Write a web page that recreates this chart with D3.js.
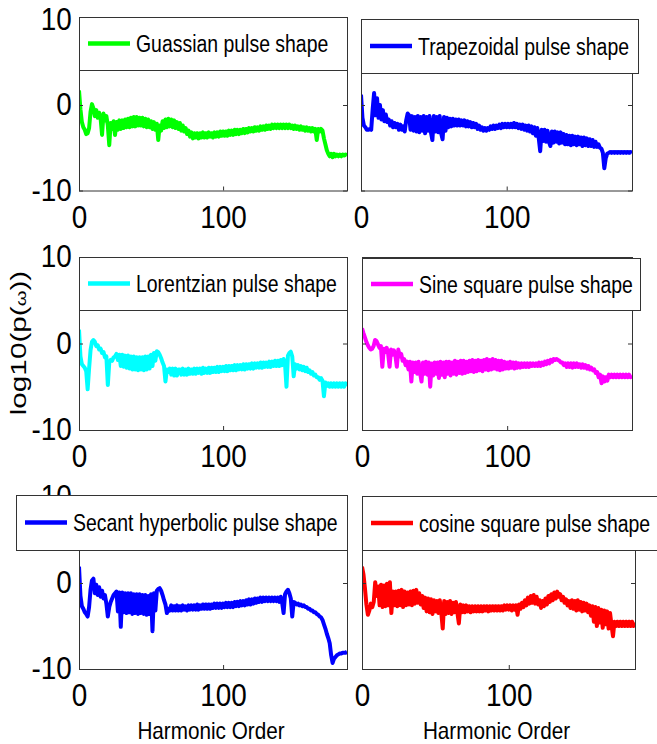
<!DOCTYPE html>
<html>
<head>
<meta charset="utf-8">
<script src="https://cdn.jsdelivr.net/npm/d3@7"></script>
<style>
body { margin: 0; background: #fff; }
text { font-family: "Liberation Sans", Arial, Helvetica, sans-serif; fill: #000; }
</style>
</head>
<body>
<div id="chart"></div>
<script>
// log10(p(w)), one value per harmonic order 0..186
var gaussian = [
    1.7, -0.5, -2.0, -2.6, -2.9, -3.4, -3.3, -2.7, -0.8, 0.1,
    -0.4, -1.3, -0.6, -1.5, -0.9, -1.6, -3.5, -1.0, -1.8, -1.3,
    -2.4, -4.7, -2.1, -2.8, -1.9, -3.5, -2.0, -2.9, -1.8, -2.8,
    -1.8, -2.7, -1.7, -2.6, -1.6, -2.6, -1.5, -2.5, -1.4, -2.5,
    -1.4, -2.4, -1.5, -2.4, -1.5, -2.5, -1.6, -2.6, -1.7, -2.6,
    -1.9, -2.8, -2.0, -2.9, -2.2, -4.1, -2.4, -3.0, -1.9, -2.7,
    -1.7, -2.6, -1.6, -2.5, -1.7, -2.6, -1.8, -2.7, -2.0, -2.8,
    -2.1, -3.0, -2.4, -3.1, -2.7, -3.4, -3.0, -3.7, -3.2, -3.9,
    -3.3, -3.8, -3.3, -3.9, -3.3, -3.8, -3.2, -3.8, -3.3, -3.8,
    -3.2, -3.7, -3.3, -3.8, -3.2, -3.7, -3.2, -3.7, -3.1, -3.6,
    -3.1, -3.6, -3.1, -3.6, -3.0, -3.5, -3.0, -3.5, -2.9, -3.4,
    -2.9, -3.4, -2.9, -3.3, -2.8, -3.3, -2.8, -3.2, -2.7, -3.1,
    -2.7, -3.1, -2.6, -3.0, -2.6, -3.0, -2.5, -2.9, -2.5, -2.9,
    -2.4, -2.8, -2.4, -2.8, -2.3, -2.7, -2.3, -2.7, -2.3, -2.7,
    -2.3, -2.7, -2.3, -2.7, -2.3, -2.7, -2.3, -2.7, -2.4, -2.8,
    -2.4, -2.8, -2.5, -2.9, -2.5, -2.9, -2.6, -3.0, -2.6, -3.0,
    -2.7, -3.1, -2.7, -3.1, -2.8, -4.1, -2.8, -3.1, -2.8, -3.0,
    -3.9, -4.6, -5.3, -5.7, -6.0, -5.7, -6.1, -5.7, -6.0, -5.8,
    -6.0, -5.8, -6.0, -5.8, -5.9, -5.8, -5.9
];
var trapezoidal = [
    1.2, -1.5, -2.4, -2.6, -2.9, -2.9, -2.8, -2.9, -0.5, 1.4,
    -1.2, 0.8, -1.5, 0.0, -1.7, -0.6, -1.9, -1.1, -2.0, -1.7,
    -2.4, -1.9, -2.6, -2.1, -2.6, -2.2, -2.9, -2.3, -2.9, -2.5,
    -3.1, -1.8, -1.0, -1.2, -2.9, -1.3, -3.0, -1.4, -3.1, -1.3,
    -3.2, -1.4, -3.0, -1.3, -3.3, -1.4, -3.0, -1.3, -3.2, -4.1,
    -1.3, -3.1, -1.4, -3.2, -1.3, -3.3, -4.0, -1.4, -3.0, -1.5,
    -2.6, -1.6, -2.5, -1.6, -2.4, -1.7, -2.4, -1.7, -2.4, -1.8,
    -2.4, -1.8, -2.5, -1.9, -2.5, -2.0, -2.6, -2.1, -2.6, -2.2,
    -2.8, -2.4, -2.9, -2.6, -3.0, -2.7, -3.0, -2.7, -2.9, -2.5,
    -2.8, -2.4, -2.8, -2.4, -2.7, -2.3, -2.7, -2.2, -2.6, -2.2,
    -2.6, -2.2, -2.6, -2.2, -2.6, -2.1, -2.6, -2.2, -2.7, -2.3,
    -2.8, -2.3, -2.9, -2.4, -3.0, -2.4, -3.1, -2.5, -3.3, -2.6,
    -3.6, -2.7, -3.9, -5.4, -2.9, -4.2, -2.9, -4.3, -3.0, -4.3,
    -4.8, -3.1, -4.4, -3.1, -4.3, -3.2, -4.5, -3.2, -4.4, -3.4,
    -4.6, -3.5, -4.6, -3.6, -4.7, -3.6, -4.6, -3.7, -4.7, -3.7,
    -4.6, -3.8, -4.8, -3.8, -4.7, -3.9, -4.8, -4.0, -4.8, -4.1,
    -4.9, -4.3, -4.9, -4.6, -5.0, -5.1, -5.6, -7.4, -6.2, -5.7,
    -5.6, -5.5, -5.6, -5.5, -5.6, -5.5, -5.6, -5.5, -5.6, -5.5,
    -5.6, -5.5, -5.6, -5.5, -5.6, -5.5, -5.6
];
var lorentzian = [
    1.6, -1.5, -2.4, -2.6, -2.8, -3.2, -5.3, -2.9, -0.8, 0.2,
    0.4, 0.2, -0.3, -0.2, -0.7, -0.6, -1.1, -1.0, -1.6, -1.5,
    -4.8, -2.2, -1.9, -2.0, -1.6, -1.5, -1.2, -1.9, -1.3, -2.6,
    -1.3, -2.7, -1.4, -2.8, -1.4, -2.9, -1.5, -3.0, -1.5, -3.0,
    -1.6, -3.1, -1.6, -3.0, -1.6, -3.1, -1.5, -3.0, -1.5, -2.9,
    -1.3, -2.6, -1.1, -2.0, -0.9, -1.0, -1.3, -1.7, -2.2, -2.6,
    -4.4, -3.0, -3.3, -2.9, -3.6, -2.9, -3.7, -2.9, -3.7, -3.0,
    -3.0, -3.6, -2.9, -3.6, -3.0, -3.6, -2.9, -3.5, -3.0, -3.5,
    -2.9, -3.5, -2.9, -3.4, -2.9, -3.5, -2.8, -3.4, -2.9, -3.4,
    -2.8, -3.4, -2.8, -3.3, -2.8, -3.3, -2.7, -3.3, -2.7, -3.2,
    -2.7, -3.2, -2.6, -3.2, -2.6, -3.1, -2.6, -3.1, -2.5, -3.1,
    -2.5, -3.0, -2.5, -3.0, -2.4, -3.0, -2.4, -2.9, -2.4, -2.9,
    -2.3, -2.9, -2.3, -2.8, -2.3, -2.8, -2.2, -2.8, -2.2, -2.7,
    -2.2, -2.7, -2.1, -2.7, -2.1, -2.6, -2.0, -2.6, -2.0, -2.6,
    -1.9, -2.5, -1.8, -2.4, -5.0, -1.4, -1.1, -0.95, -1.5, -3.8,
    -2.4, -2.9, -2.5, -3.0, -2.6, -3.1, -2.7, -3.2, -2.8, -3.3,
    -3.1, -3.5, -3.3, -3.7, -3.6, -3.9, -3.9, -4.2, -4.0, -4.3,
    -6.1, -4.5, -4.9, -4.6, -5.0, -4.6, -5.0, -4.6, -5.0, -4.6,
    -5.0, -4.6, -5.0, -4.6, -5.0, -4.6, -4.9
];
var sineSquare = [
    1.75, 1.2, 0.7, 0.2, -0.2, -0.5, -0.7, -0.6, -0.3, 0.4,
    0.3, -0.1, -0.5, -0.3, -2.7, -0.6, -1.0, -0.5, -1.2, -2.7,
    -0.7, -1.3, -0.8, -1.4, -2.7, -0.7, -1.5, -1.2, -2.0, -1.8,
    -2.5, -2.1, -3.0, -2.1, -4.4, -2.2, -3.3, -2.2, -3.5, -2.1,
    -3.4, -4.4, -2.2, -3.5, -2.1, -3.6, -2.2, -5.0, -2.3, -3.7,
    -2.2, -3.5, -2.2, -4.0, -2.1, -3.6, -2.2, -3.9, -2.1, -3.5,
    -2.1, -3.7, -2.2, -3.5, -2.0, -3.6, -2.1, -3.4, -2.0, -3.5,
    -2.0, -3.4, -2.1, -3.3, -2.0, -3.2, -1.9, -3.3, -2.0, -3.2,
    -1.9, -3.1, -2.0, -3.2, -1.9, -3.0, -1.8, -3.1, -1.9, -3.0,
    -1.8, -2.9, -1.9, -3.0, -2.0, -3.1, -2.0, -3.0, -2.1, -2.9,
    -2.2, -2.9, -2.1, -2.8, -2.2, -2.9, -2.2, -2.8, -2.3, -2.8,
    -2.3, -2.7, -2.3, -2.7, -2.3, -2.7, -2.3, -2.6, -2.3, -2.6,
    -2.3, -2.6, -2.2, -2.6, -2.2, -2.5, -2.1, -2.4, -2.0, -2.3,
    -1.9, -2.1, -1.8, -1.9, -1.8, -1.9, -2.0, -2.2, -2.2, -2.5,
    -2.3, -2.7, -2.3, -2.7, -2.3, -2.8, -2.3, -2.7, -2.3, -2.7,
    -2.4, -2.8, -2.4, -2.8, -2.5, -2.9, -2.6, -3.0, -2.8, -3.1,
    -3.0, -3.4, -3.3, -3.9, -3.6, -4.6, -3.8, -4.4, -3.9, -4.3,
    -3.6, -3.9, -3.6, -3.9, -3.6, -3.9, -3.6, -3.9, -3.6, -3.9,
    -3.6, -3.9, -3.6, -3.9, -3.6, -3.9, -3.7
];
var secantHyperbolic = [
    1.9, -1.5, -2.7, -3.0, -3.4, -3.6, -3.9, -2.8, -0.8, 0.3,
    0.5, -1.2, -0.2, -1.4, -0.5, -1.6, -0.9, -1.8, -1.4, -2.4,
    -3.9, -2.8, -2.2, -1.8, -1.4, -1.2, -1.0, -3.3, -1.1, -5.1,
    -1.1, -3.4, -1.2, -3.5, -1.2, -3.4, -1.2, -3.6, -1.3, -3.5,
    -1.3, -3.6, -1.3, -3.5, -1.4, -3.6, -1.4, -3.7, -1.5, -3.6,
    -1.3, -5.6, -1.2, -3.2, -0.9, -0.7, -0.6, -0.9, -1.4, -2.0,
    -2.5, -3.5, -3.0, -3.2, -2.6, -3.2, -2.7, -3.2, -2.6, -3.2,
    -2.7, -3.2, -2.6, -3.1, -2.7, -3.2, -2.6, -3.1, -2.6, -3.1,
    -2.6, -3.1, -2.5, -3.1, -2.6, -3.0, -2.5, -3.0, -2.5, -3.0,
    -2.5, -3.0, -2.5, -2.9, -2.4, -2.9, -2.4, -2.9, -2.4, -2.9,
    -2.4, -2.8, -2.3, -2.8, -2.3, -2.8, -2.3, -2.8, -2.2, -2.7,
    -2.2, -2.7, -2.1, -2.6, -2.1, -2.6, -2.0, -2.5, -1.9, -2.5,
    -1.9, -2.4, -1.8, -2.3, -1.8, -2.2, -1.7, -2.2, -1.7, -2.1,
    -1.7, -2.1, -1.7, -2.1, -1.7, -2.1, -1.7, -2.1, -1.7, -2.2,
    -1.6, -2.3, -3.5, -1.3, -1.0, -0.8, -1.2, -1.8, -3.9, -2.2,
    -2.3, -2.5, -2.4, -2.6, -2.5, -2.7, -2.6, -2.8, -2.8, -3.0,
    -3.0, -3.2, -3.2, -3.4, -3.4, -3.6, -3.7, -3.9, -4.0, -4.3,
    -4.8, -5.3, -5.9, -6.4, -7.0, -8.4, -9.3, -8.8, -8.6, -8.4,
    -8.3, -8.2, -8.2, -8.1, -8.1, -8.1, -8.0
];
var cosineSquare = [
    1.9, 1.0, -0.6, -2.5, -3.7, -3.2, -2.4, -2.8, -2.2, 0.1,
    -1.5, -0.4, -2.6, -0.2, -2.8, -0.3, -2.7, -0.1, -2.6, 0.1,
    -3.5, -1.0, -2.6, -1.0, -2.7, -0.9, -2.6, -0.8, -2.8, -1.0,
    -2.6, -1.1, -2.5, -1.0, -2.6, -0.9, -2.4, -0.8, -2.3, -1.2,
    -2.5, -1.5, -2.9, -1.7, -3.3, -1.8, -3.4, -1.9, -3.6, -2.0,
    -3.3, -2.1, -3.5, -2.0, -3.4, -5.3, -2.1, -3.6, -2.2, -3.5,
    -2.1, -3.6, -2.3, -3.4, -2.2, -3.5, -4.7, -2.5, -3.4, -2.6,
    -3.4, -2.6, -3.3, -2.7, -3.4, -2.7, -3.3, -2.7, -3.3, -2.7,
    -3.3, -2.7, -3.3, -2.7, -3.2, -2.7, -3.3, -2.7, -3.2, -2.7,
    -3.2, -2.7, -3.2, -2.7, -3.2, -2.7, -3.2, -2.6, -3.1, -2.6,
    -3.1, -2.6, -3.2, -2.6, -3.1, -2.6, -3.7, -2.5, -3.0, -2.3,
    -2.8, -2.0, -2.6, -1.7, -2.4, -1.5, -2.3, -1.4, -2.4, -1.6,
    -2.5, -2.0, -2.9, -2.1, -2.7, -1.8, -2.5, -1.5, -2.2, -1.3,
    -2.0, -1.1, -1.8, -1.0, -1.6, -1.3, -2.0, -1.6, -2.3, -1.9,
    -2.6, -2.1, -2.9, -2.0, -3.0, -2.1, -3.2, -2.0, -3.1, -2.2,
    -3.3, -2.3, -3.2, -2.4, -3.4, -2.6, -3.8, -2.7, -4.5, -2.8,
    -5.0, -2.9, -4.6, -3.1, -5.2, -3.2, -4.8, -3.3, -5.3, -3.5,
    -4.9, -6.2, -4.5, -5.0, -4.5, -5.0, -4.5, -5.0, -4.5, -5.0,
    -4.5, -5.0, -4.5, -5.0, -4.5, -5.0, -4.6
];

var shapeNames = ["Guassian pulse shape", "Trapezoidal pulse shape", "Lorentzian pulse shape",
    "Sine square pulse shape", "Secant hyperbolic pulse shape", "cosine square pulse shape"];
var xTicks = [0, 100];
var yTicks = [-10, 0, 10];
var xMax = 186;

var seriesList = [gaussian, trapezoidal, lorentzian, sineSquare, secantHyperbolic, cosineSquare];
var colors = ["#00ff00", "#0000ff", "#00ffff", "#ff00ff", "#0000ff", "#ff0000"];

// Set up SVG params
var svgWdt = 657;
var svgHgt = 744;

var panels = [
    {left: 79, right: 347, top: 19.5, bottom: 190.5, leg: [79, 17, 347, 70], yLbl: true, xLbl: false},
    {left: 361, right: 632, top: 19.5, bottom: 190.5, leg: [361, 19, 638, 73], yLbl: false, xLbl: false},
    {left: 79, right: 347, top: 257, bottom: 430, leg: [79, 257, 347, 310], yLbl: true, xLbl: false},
    {left: 362, right: 632, top: 257, bottom: 430, leg: [362, 258, 640, 310], yLbl: false, xLbl: false},
    {left: 79, right: 347, top: 497, bottom: 669, leg: [16, 495, 347, 550], yLbl: true, xLbl: true},
    {left: 362, right: 635, top: 497, bottom: 669, leg: [362, 496, 662, 550], yLbl: false, xLbl: true}
];

var svg = d3.select("#chart").append("svg")
    .attr("width", svgWdt)
    .attr("height", svgHgt);

svg.append("rect").attr("width", svgWdt).attr("height", svgHgt).attr("fill", "#fff");

var axisColor = "#333";
var tickFont = "Liberation Sans, Arial, sans-serif";

panels.forEach(function(p, k) {
    var x = d3.scaleLinear().domain([0, xMax]).range([p.left, p.right]);
    var y = d3.scaleLinear().domain([-10, 10]).range([p.bottom, p.top]);

    var grp = svg.append("g");

    // clip for the data line
    grp.append("clipPath").attr("id", "clip" + k)
        .append("rect")
            .attr("x", p.left).attr("y", p.top)
            .attr("width", p.right - p.left).attr("height", p.bottom - p.top);

    var line = d3.line()
        .x(function(d, i) { return x(i); })
        .y(function(d) { return y(d); });

    grp.append("path")
        .datum(seriesList[k])
        .attr("clip-path", "url(#clip" + k + ")")
        .attr("d", line)
        .attr("fill", "none")
        .attr("stroke", colors[k])
        .attr("stroke-width", 4)
        .attr("stroke-linejoin", "round");

    // bottom axis (ticks inside)
    var botAx = grp.append("g")
        .attr("transform", `translate(0, ${p.bottom})`)
        .call(d3.axisBottom(x).tickValues(xTicks).tickSizeInner(-4).tickSizeOuter(0).tickPadding(15.5)
            .tickFormat(function(d) { return String(d); }));
    botAx.select(".domain").remove();
    botAx.selectAll("line").attr("stroke", axisColor);
    botAx.selectAll("text")
        .attr("font-size", 31)
        .attr("font-family", tickFont)
        .attr("transform", "scale(0.9,1)");

    // left axis
    var lftAx = grp.append("g")
        .attr("transform", `translate(${p.left}, 0)`)
        .call(d3.axisLeft(y).tickValues(yTicks).tickSizeInner(-4).tickSizeOuter(0).tickPadding(8)
            .tickFormat(function(d) { return p.yLbl ? String(d) : ""; }));
    lftAx.select(".domain").remove();
    lftAx.selectAll("line").attr("stroke", axisColor);
    lftAx.selectAll("text")
        .attr("font-size", 31)
        .attr("font-family", tickFont)
        .attr("transform", "scale(0.9,1)");

    // right axis ticks
    var rgtAx = grp.append("g")
        .attr("transform", `translate(${p.right}, 0)`)
        .call(d3.axisRight(y).tickValues(yTicks).tickSizeInner(-4).tickSizeOuter(0).tickFormat(""));
    rgtAx.select(".domain").remove();
    rgtAx.selectAll("line").attr("stroke", axisColor);

    // axes box
    grp.append("rect")
        .attr("x", p.left + 0.5).attr("y", p.top + 0.5)
        .attr("width", p.right - p.left).attr("height", p.bottom - p.top)
        .attr("fill", "none")
        .attr("stroke", axisColor)
        .attr("stroke-width", 1);

    if (p.xLbl) {
        grp.append("text")
            .attr("transform", `translate(${(p.left + p.right) / 2 - 2}, 739) scale(0.9,1)`)
            .attr("text-anchor", "middle")
            .attr("font-size", 23)
            .text("Harmonic Order");
    }

    // legend
    var L = p.leg;
    var lgd = grp.append("g");
    lgd.append("rect")
        .attr("x", L[0] + 0.5).attr("y", L[1] + 0.5)
        .attr("width", L[2] - L[0]).attr("height", L[3] - L[1])
        .attr("fill", "#fff")
        .attr("stroke", axisColor)
        .attr("stroke-width", 1);
    var cy = (L[1] + L[3]) / 2;
    lgd.append("line")
        .attr("x1", L[0] + 9).attr("x2", L[0] + 51)
        .attr("y1", cy).attr("y2", cy)
        .attr("stroke", colors[k])
        .attr("stroke-width", 4.5);
    lgd.append("text")
        .attr("transform", `translate(${L[0] + 57}, ${cy + 8.7}) scale(0.81,1)`)
        .attr("font-size", 24)
        .text(shapeNames[k]);
});

// shared y label
var yLab = svg.append("text")
    .attr("transform", "translate(26, 343) rotate(-90) scale(1.35,1)")
    .attr("text-anchor", "middle")
    .attr("font-size", 22);
yLab.append("tspan").text("log10(p(");
yLab.append("tspan").attr("font-size", 15).text("ω");
yLab.append("tspan").text("))");
</script>
</body>
</html>
